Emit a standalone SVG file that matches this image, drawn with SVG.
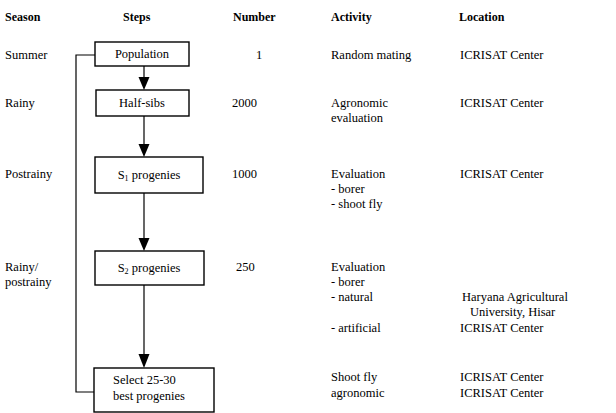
<svg xmlns="http://www.w3.org/2000/svg" width="616" height="413" viewBox="0 0 616 413">
<style>
text{font-family:"Liberation Serif","Times New Roman",serif;font-size:12.5px;fill:#000}
.h{font-weight:bold;font-size:12px}
.c{text-anchor:middle}
.box{fill:#fff;stroke:#000;stroke-width:1.4}
.ln{fill:none;stroke:#000;stroke-width:1.2}
.ah{fill:#000}
</style>
<rect width="616" height="413" fill="#fff"/>
<g id="headers">
<text class="h" x="5" y="21">Season</text>
<text class="h" x="123" y="21">Steps</text>
<text class="h" x="233" y="21">Number</text>
<text class="h" x="331" y="21">Activity</text>
<text class="h" x="459" y="21">Location</text>
</g>
<g id="connectors">
<polyline class="ln" points="95,55 76,55 76,392 94,392"/>
<line class="ln" x1="144" y1="66" x2="144" y2="78"/>
<path class="ah" d="M138.5,77 L149.5,77 L144,90 Z"/>
<line class="ln" x1="144" y1="116" x2="144" y2="145"/>
<path class="ah" d="M138.5,144 L149.5,144 L144,157 Z"/>
<line class="ln" x1="144" y1="193" x2="144" y2="239"/>
<path class="ah" d="M138.5,238 L149.5,238 L144,251 Z"/>
<line class="ln" x1="144" y1="285" x2="144" y2="355"/>
<path class="ah" d="M138.5,354 L149.5,354 L144,368 Z"/>
</g>
<g id="population">
<rect class="box" x="95" y="42" width="94" height="24"/>
<text class="c" x="142" y="58">Population</text>
</g>
<g id="half-sibs">
<rect class="box" x="96" y="90" width="93" height="26"/>
<text class="c" x="142" y="107">Half-sibs</text>
</g>
<g id="s1">
<rect class="box" x="95" y="157" width="108" height="36"/>
<text class="c" x="149" y="179">S<tspan font-size="8" dy="2">1</tspan><tspan dy="-2"> progenies</tspan></text>
</g>
<g id="s2">
<rect class="box" x="95" y="251" width="109" height="34"/>
<text class="c" x="149" y="272">S<tspan font-size="8" dy="2">2</tspan><tspan dy="-2"> progenies</tspan></text>
</g>
<g id="select">
<rect class="box" x="94" y="368" width="120" height="44"/>
<text x="113" y="384">Select 25-30</text>
<text x="113" y="400">best progenies</text>
</g>
<g id="season-col">
<text x="5" y="59">Summer</text>
<text x="5" y="107">Rainy</text>
<text x="5" y="178">Postrainy</text>
<text x="5" y="271">Rainy/</text>
<text x="5" y="286">postrainy</text>
</g>
<g id="number-col">
<text x="256" y="59">1</text>
<text x="232" y="107">2000</text>
<text x="232" y="178">1000</text>
<text x="236" y="271">250</text>
</g>
<g id="activity-col">
<text x="331" y="59">Random mating</text>
<text x="331" y="107">Agronomic</text>
<text x="331" y="122">evaluation</text>
<text x="331" y="178">Evaluation</text>
<text x="331" y="193">- borer</text>
<text x="331" y="208">- shoot fly</text>
<text x="331" y="271">Evaluation</text>
<text x="331" y="286">- borer</text>
<text x="331" y="301">- natural</text>
<text x="331" y="332">- artificial</text>
<text x="331" y="381">Shoot fly</text>
<text x="331" y="397">agronomic</text>
</g>
<g id="location-col">
<text x="460" y="59">ICRISAT Center</text>
<text x="460" y="107">ICRISAT Center</text>
<text x="460" y="178">ICRISAT Center</text>
<text x="462" y="301">Haryana Agricultural</text>
<text x="470" y="316">University, Hisar</text>
<text x="460" y="332">ICRISAT Center</text>
<text x="460" y="381">ICRISAT Center</text>
<text x="460" y="397">ICRISAT Center</text>
</g>
</svg>
